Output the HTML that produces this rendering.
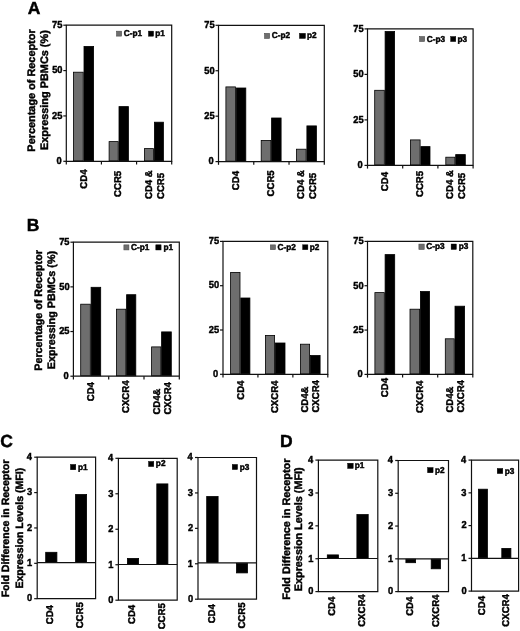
<!DOCTYPE html>
<html><head><meta charset="utf-8"><style>
html,body{margin:0;padding:0;background:#fff;}
svg{display:block;filter:grayscale(1);}
text{font-family:"Liberation Sans", sans-serif;font-weight:bold;text-rendering:geometricPrecision;fill:#000;stroke:#000;stroke-width:0.45px;}
</style></head><body>
<svg width="520" height="631" viewBox="0 0 520 631">
<rect width="520" height="631" fill="#fff"/>
<text transform="translate(27.85,14.27)" font-size="17.5">A</text>
<text transform="translate(26.83,231.17)" font-size="17.5">B</text>
<text transform="translate(0.27,446.97)" font-size="17.5">C</text>
<text transform="translate(280.11,446.52)" font-size="17.5">D</text>
<rect x="73.40" y="72.20" width="9.80" height="88.70" fill="#6e6e6e" stroke="#000" stroke-width="0.8"/>
<rect x="84.00" y="46.40" width="9.60" height="114.50" fill="#000" stroke="#000" stroke-width="0.8"/>
<rect x="109.10" y="141.60" width="9.10" height="19.30" fill="#6e6e6e" stroke="#000" stroke-width="0.8"/>
<rect x="119.00" y="106.60" width="9.40" height="54.30" fill="#000" stroke="#000" stroke-width="0.8"/>
<rect x="144.40" y="148.60" width="9.20" height="12.30" fill="#6e6e6e" stroke="#000" stroke-width="0.8"/>
<rect x="154.40" y="122.20" width="9.00" height="38.70" fill="#000" stroke="#000" stroke-width="0.8"/>
<path d="M66.30,161.30 L66.30,25.20 L171.70,25.20 L171.70,161.30 Z" fill="none" stroke="#111" stroke-width="1.2"/>
<line x1="63.30" y1="161.30" x2="66.30" y2="161.30" stroke="#111" stroke-width="1.2"/>
<text transform="translate(56.41,164.07) scale(0.92,1)" font-size="10.1">0</text>
<line x1="63.30" y1="115.93" x2="66.30" y2="115.93" stroke="#111" stroke-width="1.2"/>
<text transform="translate(52.04,118.71) scale(0.92,1)" font-size="10.1">25</text>
<line x1="63.30" y1="70.57" x2="66.30" y2="70.57" stroke="#111" stroke-width="1.2"/>
<text transform="translate(52.16,73.34) scale(0.92,1)" font-size="10.1">50</text>
<line x1="63.30" y1="25.20" x2="66.30" y2="25.20" stroke="#111" stroke-width="1.2"/>
<text transform="translate(52.04,27.92) scale(0.92,1)" font-size="10.1">75</text>
<line x1="66.30" y1="161.30" x2="66.30" y2="164.50" stroke="#111" stroke-width="1.2"/>
<line x1="101.43" y1="161.30" x2="101.43" y2="164.50" stroke="#111" stroke-width="1.2"/>
<line x1="136.57" y1="161.30" x2="136.57" y2="164.50" stroke="#111" stroke-width="1.2"/>
<line x1="171.70" y1="161.30" x2="171.70" y2="164.50" stroke="#111" stroke-width="1.2"/>
<rect x="116.60" y="31.20" width="5.00" height="4.90" fill="#6e6e6e" stroke="#4a4a4a" stroke-width="0.6"/>
<text transform="translate(123.77,36.03) scale(0.97,1)" font-size="8.5">C-p1</text>
<rect x="148.40" y="31.10" width="5.20" height="5.10" fill="#000" stroke="#000" stroke-width="0.4"/>
<text transform="translate(155.26,35.99) scale(0.97,1)" font-size="8.5">p1</text>
<rect x="225.90" y="86.90" width="9.50" height="74.30" fill="#6e6e6e" stroke="#000" stroke-width="0.8"/>
<rect x="236.20" y="88.00" width="9.60" height="73.20" fill="#000" stroke="#000" stroke-width="0.8"/>
<rect x="261.20" y="140.40" width="9.60" height="20.80" fill="#6e6e6e" stroke="#000" stroke-width="0.8"/>
<rect x="271.60" y="118.00" width="9.50" height="43.20" fill="#000" stroke="#000" stroke-width="0.8"/>
<rect x="296.40" y="149.20" width="9.70" height="12.00" fill="#6e6e6e" stroke="#000" stroke-width="0.8"/>
<rect x="306.90" y="125.90" width="9.50" height="35.30" fill="#000" stroke="#000" stroke-width="0.8"/>
<path d="M218.50,161.60 L218.50,25.30 L324.30,25.30 L324.30,161.60 Z" fill="none" stroke="#111" stroke-width="1.2"/>
<line x1="215.50" y1="161.60" x2="218.50" y2="161.60" stroke="#111" stroke-width="1.2"/>
<text transform="translate(208.61,164.37) scale(0.92,1)" font-size="10.1">0</text>
<line x1="215.50" y1="116.17" x2="218.50" y2="116.17" stroke="#111" stroke-width="1.2"/>
<text transform="translate(204.24,118.94) scale(0.92,1)" font-size="10.1">25</text>
<line x1="215.50" y1="70.73" x2="218.50" y2="70.73" stroke="#111" stroke-width="1.2"/>
<text transform="translate(204.36,73.51) scale(0.92,1)" font-size="10.1">50</text>
<line x1="215.50" y1="25.30" x2="218.50" y2="25.30" stroke="#111" stroke-width="1.2"/>
<text transform="translate(204.24,28.02) scale(0.92,1)" font-size="10.1">75</text>
<line x1="218.50" y1="161.60" x2="218.50" y2="164.80" stroke="#111" stroke-width="1.2"/>
<line x1="253.77" y1="161.60" x2="253.77" y2="164.80" stroke="#111" stroke-width="1.2"/>
<line x1="289.03" y1="161.60" x2="289.03" y2="164.80" stroke="#111" stroke-width="1.2"/>
<line x1="324.30" y1="161.60" x2="324.30" y2="164.80" stroke="#111" stroke-width="1.2"/>
<rect x="264.60" y="33.40" width="5.00" height="5.00" fill="#6e6e6e" stroke="#4a4a4a" stroke-width="0.6"/>
<text transform="translate(271.77,38.33) scale(0.97,1)" font-size="8.5">C-p2</text>
<rect x="299.40" y="33.30" width="6.10" height="5.20" fill="#000" stroke="#000" stroke-width="0.4"/>
<text transform="translate(306.96,38.33) scale(0.97,1)" font-size="8.5">p2</text>
<rect x="374.70" y="90.30" width="9.60" height="74.70" fill="#6e6e6e" stroke="#000" stroke-width="0.8"/>
<rect x="385.10" y="31.50" width="9.50" height="133.50" fill="#000" stroke="#000" stroke-width="0.8"/>
<rect x="410.40" y="139.90" width="9.70" height="25.10" fill="#6e6e6e" stroke="#000" stroke-width="0.8"/>
<rect x="420.90" y="146.60" width="9.10" height="18.40" fill="#000" stroke="#000" stroke-width="0.8"/>
<rect x="445.80" y="157.20" width="9.10" height="7.80" fill="#6e6e6e" stroke="#000" stroke-width="0.8"/>
<rect x="455.70" y="154.60" width="9.60" height="10.40" fill="#000" stroke="#000" stroke-width="0.8"/>
<path d="M367.50,165.40 L367.50,28.90 L473.10,28.90 L473.10,165.40 Z" fill="none" stroke="#111" stroke-width="1.2"/>
<line x1="364.50" y1="165.40" x2="367.50" y2="165.40" stroke="#111" stroke-width="1.2"/>
<text transform="translate(357.61,168.17) scale(0.92,1)" font-size="10.1">0</text>
<line x1="364.50" y1="119.90" x2="367.50" y2="119.90" stroke="#111" stroke-width="1.2"/>
<text transform="translate(353.24,122.67) scale(0.92,1)" font-size="10.1">25</text>
<line x1="364.50" y1="74.40" x2="367.50" y2="74.40" stroke="#111" stroke-width="1.2"/>
<text transform="translate(353.36,77.17) scale(0.92,1)" font-size="10.1">50</text>
<line x1="364.50" y1="28.90" x2="367.50" y2="28.90" stroke="#111" stroke-width="1.2"/>
<text transform="translate(353.24,31.62) scale(0.92,1)" font-size="10.1">75</text>
<line x1="367.50" y1="165.40" x2="367.50" y2="168.60" stroke="#111" stroke-width="1.2"/>
<line x1="402.70" y1="165.40" x2="402.70" y2="168.60" stroke="#111" stroke-width="1.2"/>
<line x1="437.90" y1="165.40" x2="437.90" y2="168.60" stroke="#111" stroke-width="1.2"/>
<line x1="473.10" y1="165.40" x2="473.10" y2="168.60" stroke="#111" stroke-width="1.2"/>
<rect x="419.60" y="36.60" width="5.00" height="4.90" fill="#6e6e6e" stroke="#4a4a4a" stroke-width="0.6"/>
<text transform="translate(426.77,41.53) scale(0.97,1)" font-size="8.5">C-p3</text>
<rect x="450.60" y="36.50" width="5.20" height="5.10" fill="#000" stroke="#000" stroke-width="0.4"/>
<text transform="translate(457.46,41.53) scale(0.97,1)" font-size="8.5">p3</text>
<rect x="80.70" y="304.20" width="9.60" height="71.60" fill="#6e6e6e" stroke="#000" stroke-width="0.8"/>
<rect x="91.10" y="287.30" width="9.60" height="88.50" fill="#000" stroke="#000" stroke-width="0.8"/>
<rect x="116.40" y="309.20" width="9.40" height="66.60" fill="#6e6e6e" stroke="#000" stroke-width="0.8"/>
<rect x="126.60" y="294.70" width="9.20" height="81.10" fill="#000" stroke="#000" stroke-width="0.8"/>
<rect x="151.60" y="346.90" width="9.20" height="28.90" fill="#6e6e6e" stroke="#000" stroke-width="0.8"/>
<rect x="161.60" y="331.90" width="9.70" height="43.90" fill="#000" stroke="#000" stroke-width="0.8"/>
<path d="M73.40,376.20 L73.40,242.20 L179.30,242.20 L179.30,376.20 Z" fill="none" stroke="#111" stroke-width="1.2"/>
<line x1="70.40" y1="376.20" x2="73.40" y2="376.20" stroke="#111" stroke-width="1.2"/>
<text transform="translate(63.51,378.97) scale(0.92,1)" font-size="10.1">0</text>
<line x1="70.40" y1="331.53" x2="73.40" y2="331.53" stroke="#111" stroke-width="1.2"/>
<text transform="translate(59.14,334.31) scale(0.92,1)" font-size="10.1">25</text>
<line x1="70.40" y1="286.87" x2="73.40" y2="286.87" stroke="#111" stroke-width="1.2"/>
<text transform="translate(59.26,289.64) scale(0.92,1)" font-size="10.1">50</text>
<line x1="70.40" y1="242.20" x2="73.40" y2="242.20" stroke="#111" stroke-width="1.2"/>
<text transform="translate(59.14,244.92) scale(0.92,1)" font-size="10.1">75</text>
<line x1="73.40" y1="376.20" x2="73.40" y2="379.40" stroke="#111" stroke-width="1.2"/>
<line x1="108.70" y1="376.20" x2="108.70" y2="379.40" stroke="#111" stroke-width="1.2"/>
<line x1="144.00" y1="376.20" x2="144.00" y2="379.40" stroke="#111" stroke-width="1.2"/>
<line x1="179.30" y1="376.20" x2="179.30" y2="379.40" stroke="#111" stroke-width="1.2"/>
<rect x="123.90" y="244.90" width="5.00" height="5.00" fill="#6e6e6e" stroke="#4a4a4a" stroke-width="0.6"/>
<text transform="translate(131.07,250.08) scale(0.97,1)" font-size="8.5">C-p1</text>
<rect x="155.80" y="244.80" width="5.30" height="5.20" fill="#000" stroke="#000" stroke-width="0.4"/>
<text transform="translate(163.41,250.04) scale(0.97,1)" font-size="8.5">p1</text>
<rect x="230.60" y="272.40" width="9.40" height="101.50" fill="#6e6e6e" stroke="#000" stroke-width="0.8"/>
<rect x="240.80" y="298.00" width="9.10" height="75.90" fill="#000" stroke="#000" stroke-width="0.8"/>
<rect x="265.40" y="335.40" width="9.20" height="38.50" fill="#6e6e6e" stroke="#000" stroke-width="0.8"/>
<rect x="275.40" y="343.00" width="9.60" height="30.90" fill="#000" stroke="#000" stroke-width="0.8"/>
<rect x="300.40" y="344.20" width="9.20" height="29.70" fill="#6e6e6e" stroke="#000" stroke-width="0.8"/>
<rect x="310.40" y="355.50" width="9.70" height="18.40" fill="#000" stroke="#000" stroke-width="0.8"/>
<path d="M223.00,374.30 L223.00,241.40 L327.80,241.40 L327.80,374.30 Z" fill="none" stroke="#111" stroke-width="1.2"/>
<line x1="220.00" y1="374.30" x2="223.00" y2="374.30" stroke="#111" stroke-width="1.2"/>
<text transform="translate(213.11,377.07) scale(0.92,1)" font-size="10.1">0</text>
<line x1="220.00" y1="330.00" x2="223.00" y2="330.00" stroke="#111" stroke-width="1.2"/>
<text transform="translate(208.74,332.77) scale(0.92,1)" font-size="10.1">25</text>
<line x1="220.00" y1="285.70" x2="223.00" y2="285.70" stroke="#111" stroke-width="1.2"/>
<text transform="translate(208.86,288.47) scale(0.92,1)" font-size="10.1">50</text>
<line x1="220.00" y1="241.40" x2="223.00" y2="241.40" stroke="#111" stroke-width="1.2"/>
<text transform="translate(208.74,244.12) scale(0.92,1)" font-size="10.1">75</text>
<line x1="223.00" y1="374.30" x2="223.00" y2="377.50" stroke="#111" stroke-width="1.2"/>
<line x1="257.93" y1="374.30" x2="257.93" y2="377.50" stroke="#111" stroke-width="1.2"/>
<line x1="292.87" y1="374.30" x2="292.87" y2="377.50" stroke="#111" stroke-width="1.2"/>
<line x1="327.80" y1="374.30" x2="327.80" y2="377.50" stroke="#111" stroke-width="1.2"/>
<rect x="270.40" y="244.90" width="5.00" height="4.70" fill="#6e6e6e" stroke="#4a4a4a" stroke-width="0.6"/>
<text transform="translate(277.57,249.73) scale(0.97,1)" font-size="8.5">C-p2</text>
<rect x="302.60" y="244.80" width="5.30" height="4.90" fill="#000" stroke="#000" stroke-width="0.4"/>
<text transform="translate(309.66,249.73) scale(0.97,1)" font-size="8.5">p2</text>
<rect x="374.90" y="292.60" width="9.40" height="81.40" fill="#6e6e6e" stroke="#000" stroke-width="0.8"/>
<rect x="385.10" y="254.60" width="9.60" height="119.40" fill="#000" stroke="#000" stroke-width="0.8"/>
<rect x="410.00" y="309.20" width="9.60" height="64.80" fill="#6e6e6e" stroke="#000" stroke-width="0.8"/>
<rect x="420.40" y="291.50" width="9.10" height="82.50" fill="#000" stroke="#000" stroke-width="0.8"/>
<rect x="445.30" y="338.80" width="8.90" height="35.20" fill="#6e6e6e" stroke="#000" stroke-width="0.8"/>
<rect x="455.00" y="306.20" width="9.60" height="67.80" fill="#000" stroke="#000" stroke-width="0.8"/>
<path d="M367.50,374.40 L367.50,241.40 L472.80,241.40 L472.80,374.40 Z" fill="none" stroke="#111" stroke-width="1.2"/>
<line x1="364.50" y1="374.40" x2="367.50" y2="374.40" stroke="#111" stroke-width="1.2"/>
<text transform="translate(357.61,377.17) scale(0.92,1)" font-size="10.1">0</text>
<line x1="364.50" y1="330.07" x2="367.50" y2="330.07" stroke="#111" stroke-width="1.2"/>
<text transform="translate(353.24,332.84) scale(0.92,1)" font-size="10.1">25</text>
<line x1="364.50" y1="285.73" x2="367.50" y2="285.73" stroke="#111" stroke-width="1.2"/>
<text transform="translate(353.36,288.51) scale(0.92,1)" font-size="10.1">50</text>
<line x1="364.50" y1="241.40" x2="367.50" y2="241.40" stroke="#111" stroke-width="1.2"/>
<text transform="translate(353.24,244.12) scale(0.92,1)" font-size="10.1">75</text>
<line x1="367.50" y1="374.40" x2="367.50" y2="377.60" stroke="#111" stroke-width="1.2"/>
<line x1="402.60" y1="374.40" x2="402.60" y2="377.60" stroke="#111" stroke-width="1.2"/>
<line x1="437.70" y1="374.40" x2="437.70" y2="377.60" stroke="#111" stroke-width="1.2"/>
<line x1="472.80" y1="374.40" x2="472.80" y2="377.60" stroke="#111" stroke-width="1.2"/>
<rect x="418.90" y="244.10" width="5.30" height="5.30" fill="#6e6e6e" stroke="#4a4a4a" stroke-width="0.6"/>
<text transform="translate(426.27,249.23) scale(0.97,1)" font-size="8.5">C-p3</text>
<rect x="451.10" y="244.00" width="5.30" height="5.50" fill="#000" stroke="#000" stroke-width="0.4"/>
<text transform="translate(458.76,249.23) scale(0.97,1)" font-size="8.5">p3</text>
<text transform="translate(34.90,151.63) rotate(-90)" font-size="10.9">Percentage of Receptor</text>
<text transform="translate(48.10,150.06) rotate(-90)" font-size="10.9">Expressing PBMCs (%)</text>
<text transform="translate(42.00,370.73) rotate(-90)" font-size="10.75">Percentage of Receptor</text>
<text transform="translate(54.90,369.23) rotate(-90)" font-size="10.75">Expressing PBMCs (%)</text>
<text transform="translate(9.40,597.37) rotate(-90)" font-size="10.55">Fold Difference in Receptor</text>
<text transform="translate(22.50,588.53) rotate(-90)" font-size="10.55">Expression Levels (MFI)</text>
<text transform="translate(289.60,599.84) rotate(-90)" font-size="10.82">Fold Difference in Receptor</text>
<text transform="translate(302.40,591.18) rotate(-90)" font-size="10.82">Expression Levels (MFI)</text>
<text transform="translate(87.10,188.66) rotate(-90) scale(0.97,1)" font-size="9.9">CD4</text>
<text transform="translate(121.30,196.88) rotate(-90) scale(0.97,1)" font-size="9.9">CCR5</text>
<text transform="translate(151.90,198.98) rotate(-90) scale(0.97,1)" font-size="9.9">CD4 &amp;</text>
<text transform="translate(163.80,198.98) rotate(-90) scale(0.97,1)" font-size="9.9">CCR5</text>
<text transform="translate(239.00,190.16) rotate(-90) scale(0.97,1)" font-size="9.9">CD4</text>
<text transform="translate(273.80,196.38) rotate(-90) scale(0.97,1)" font-size="9.9">CCR5</text>
<text transform="translate(304.40,198.88) rotate(-90) scale(0.97,1)" font-size="9.9">CD4 &amp;</text>
<text transform="translate(316.10,198.88) rotate(-90) scale(0.97,1)" font-size="9.9">CCR5</text>
<text transform="translate(387.60,191.16) rotate(-90) scale(0.97,1)" font-size="9.9">CD4</text>
<text transform="translate(422.70,196.98) rotate(-90) scale(0.97,1)" font-size="9.9">CCR5</text>
<text transform="translate(453.10,198.88) rotate(-90) scale(0.97,1)" font-size="9.9">CD4 &amp;</text>
<text transform="translate(464.80,198.88) rotate(-90) scale(0.97,1)" font-size="9.9">CCR5</text>
<text transform="translate(93.90,401.26) rotate(-90) scale(0.97,1)" font-size="9.9">CD4</text>
<text transform="translate(129.30,412.98) rotate(-90) scale(0.97,1)" font-size="9.9">CXCR4</text>
<text transform="translate(159.80,414.58) rotate(-90) scale(0.97,1)" font-size="9.9">CD4&amp;</text>
<text transform="translate(171.10,414.58) rotate(-90) scale(0.97,1)" font-size="9.9">CXCR4</text>
<text transform="translate(243.50,399.76) rotate(-90) scale(0.97,1)" font-size="9.9">CD4</text>
<text transform="translate(277.80,413.08) rotate(-90) scale(0.97,1)" font-size="9.9">CXCR4</text>
<text transform="translate(308.10,412.58) rotate(-90) scale(0.97,1)" font-size="9.9">CD4&amp;</text>
<text transform="translate(319.20,412.58) rotate(-90) scale(0.97,1)" font-size="9.9">CXCR4</text>
<text transform="translate(387.50,397.16) rotate(-90) scale(0.97,1)" font-size="9.9">CD4</text>
<text transform="translate(422.90,413.08) rotate(-90) scale(0.97,1)" font-size="9.9">CXCR4</text>
<text transform="translate(453.10,412.58) rotate(-90) scale(0.97,1)" font-size="9.9">CD4&amp;</text>
<text transform="translate(464.20,412.58) rotate(-90) scale(0.97,1)" font-size="9.9">CXCR4</text>
<text transform="translate(53.10,624.27) rotate(-90) scale(0.97,1)" font-size="9.9">CD4</text>
<text transform="translate(83.35,628.36) rotate(-90) scale(0.97,1)" font-size="9.9">CCR5</text>
<text transform="translate(135.00,624.02) rotate(-90) scale(0.97,1)" font-size="9.9">CD4</text>
<text transform="translate(164.80,629.33) rotate(-90) scale(0.97,1)" font-size="9.9">CCR5</text>
<text transform="translate(215.00,623.32) rotate(-90) scale(0.97,1)" font-size="9.9">CD4</text>
<text transform="translate(244.80,628.58) rotate(-90) scale(0.97,1)" font-size="9.9">CCR5</text>
<text transform="translate(334.80,615.87) rotate(-90) scale(0.97,1)" font-size="9.9">CD4</text>
<text transform="translate(364.80,626.83) rotate(-90) scale(0.97,1)" font-size="9.9">CXCR4</text>
<text transform="translate(412.60,615.87) rotate(-90) scale(0.97,1)" font-size="9.9">CD4</text>
<text transform="translate(438.50,627.08) rotate(-90) scale(0.97,1)" font-size="9.9">CXCR4</text>
<text transform="translate(485.00,615.15) rotate(-90) scale(0.97,1)" font-size="9.9">CD4</text>
<text transform="translate(508.80,626.63) rotate(-90) scale(0.97,1)" font-size="9.9">CXCR4</text>
<rect x="45.70" y="552.30" width="11.20" height="10.00" fill="#000" stroke="#000" stroke-width="0.8"/>
<rect x="75.60" y="494.50" width="11.00" height="67.80" fill="#000" stroke="#000" stroke-width="0.8"/>
<path d="M37.20,598.70 L37.20,457.20 L95.60,457.20 L95.60,598.70 Z" fill="none" stroke="#111" stroke-width="1.2"/>
<line x1="37.20" y1="562.70" x2="95.60" y2="562.70" stroke="#111" stroke-width="1.2"/>
<line x1="34.20" y1="598.70" x2="37.20" y2="598.70" stroke="#111" stroke-width="1.2"/>
<text transform="translate(27.11,601.47) scale(0.92,1)" font-size="10.1">0</text>
<line x1="34.20" y1="563.33" x2="37.20" y2="563.33" stroke="#111" stroke-width="1.2"/>
<text transform="translate(27.00,566.10) scale(0.92,1)" font-size="10.1">1</text>
<line x1="34.20" y1="527.95" x2="37.20" y2="527.95" stroke="#111" stroke-width="1.2"/>
<text transform="translate(27.11,530.77) scale(0.92,1)" font-size="10.1">2</text>
<line x1="34.20" y1="492.57" x2="37.20" y2="492.57" stroke="#111" stroke-width="1.2"/>
<text transform="translate(27.07,495.33) scale(0.92,1)" font-size="10.1">3</text>
<line x1="34.20" y1="457.20" x2="37.20" y2="457.20" stroke="#111" stroke-width="1.2"/>
<text transform="translate(26.79,459.97) scale(0.92,1)" font-size="10.1">4</text>
<rect x="70.40" y="464.40" width="5.40" height="5.40" fill="#000" stroke="#000" stroke-width="0.4"/>
<text transform="translate(77.96,469.74) scale(0.97,1)" font-size="8.5">p1</text>
<rect x="127.40" y="558.40" width="11.20" height="5.70" fill="#000" stroke="#000" stroke-width="0.8"/>
<rect x="156.80" y="483.90" width="11.10" height="80.20" fill="#000" stroke="#000" stroke-width="0.8"/>
<path d="M118.40,600.20 L118.40,458.30 L177.20,458.30 L177.20,600.20 Z" fill="none" stroke="#111" stroke-width="1.2"/>
<line x1="118.40" y1="564.50" x2="177.20" y2="564.50" stroke="#111" stroke-width="1.2"/>
<line x1="115.40" y1="600.20" x2="118.40" y2="600.20" stroke="#111" stroke-width="1.2"/>
<text transform="translate(108.31,602.97) scale(0.92,1)" font-size="10.1">0</text>
<line x1="115.40" y1="564.73" x2="118.40" y2="564.73" stroke="#111" stroke-width="1.2"/>
<text transform="translate(108.20,567.50) scale(0.92,1)" font-size="10.1">1</text>
<line x1="115.40" y1="529.25" x2="118.40" y2="529.25" stroke="#111" stroke-width="1.2"/>
<text transform="translate(108.31,532.07) scale(0.92,1)" font-size="10.1">2</text>
<line x1="115.40" y1="493.78" x2="118.40" y2="493.78" stroke="#111" stroke-width="1.2"/>
<text transform="translate(108.27,496.53) scale(0.92,1)" font-size="10.1">3</text>
<line x1="115.40" y1="458.30" x2="118.40" y2="458.30" stroke="#111" stroke-width="1.2"/>
<text transform="translate(107.99,461.07) scale(0.92,1)" font-size="10.1">4</text>
<rect x="148.50" y="461.40" width="5.30" height="5.20" fill="#000" stroke="#000" stroke-width="0.4"/>
<text transform="translate(155.86,466.48) scale(0.97,1)" font-size="8.5">p2</text>
<rect x="206.70" y="496.50" width="11.40" height="66.00" fill="#000" stroke="#000" stroke-width="0.8"/>
<rect x="236.50" y="563.30" width="11.00" height="9.60" fill="#000" stroke="#000" stroke-width="0.8"/>
<path d="M198.00,599.20 L198.00,457.50 L256.50,457.50 L256.50,599.20 Z" fill="none" stroke="#111" stroke-width="1.2"/>
<line x1="198.00" y1="562.90" x2="256.50" y2="562.90" stroke="#111" stroke-width="1.2"/>
<line x1="195.00" y1="599.20" x2="198.00" y2="599.20" stroke="#111" stroke-width="1.2"/>
<text transform="translate(187.91,601.97) scale(0.92,1)" font-size="10.1">0</text>
<line x1="195.00" y1="563.78" x2="198.00" y2="563.78" stroke="#111" stroke-width="1.2"/>
<text transform="translate(187.80,566.55) scale(0.92,1)" font-size="10.1">1</text>
<line x1="195.00" y1="528.35" x2="198.00" y2="528.35" stroke="#111" stroke-width="1.2"/>
<text transform="translate(187.91,531.17) scale(0.92,1)" font-size="10.1">2</text>
<line x1="195.00" y1="492.93" x2="198.00" y2="492.93" stroke="#111" stroke-width="1.2"/>
<text transform="translate(187.87,495.68) scale(0.92,1)" font-size="10.1">3</text>
<line x1="195.00" y1="457.50" x2="198.00" y2="457.50" stroke="#111" stroke-width="1.2"/>
<text transform="translate(187.59,460.27) scale(0.92,1)" font-size="10.1">4</text>
<rect x="232.20" y="464.40" width="5.40" height="5.20" fill="#000" stroke="#000" stroke-width="0.4"/>
<text transform="translate(239.66,469.63) scale(0.97,1)" font-size="8.5">p3</text>
<rect x="327.30" y="554.90" width="11.20" height="3.20" fill="#000" stroke="#000" stroke-width="0.8"/>
<rect x="356.90" y="514.60" width="11.30" height="43.50" fill="#000" stroke="#000" stroke-width="0.8"/>
<path d="M318.40,591.60 L318.40,460.10 L377.80,460.10 L377.80,591.60 Z" fill="none" stroke="#111" stroke-width="1.2"/>
<line x1="318.40" y1="558.50" x2="377.80" y2="558.50" stroke="#111" stroke-width="1.2"/>
<line x1="315.40" y1="591.60" x2="318.40" y2="591.60" stroke="#111" stroke-width="1.2"/>
<text transform="translate(308.31,594.37) scale(0.92,1)" font-size="10.1">0</text>
<line x1="315.40" y1="558.73" x2="318.40" y2="558.73" stroke="#111" stroke-width="1.2"/>
<text transform="translate(308.20,561.50) scale(0.92,1)" font-size="10.1">1</text>
<line x1="315.40" y1="525.85" x2="318.40" y2="525.85" stroke="#111" stroke-width="1.2"/>
<text transform="translate(308.31,528.67) scale(0.92,1)" font-size="10.1">2</text>
<line x1="315.40" y1="492.98" x2="318.40" y2="492.98" stroke="#111" stroke-width="1.2"/>
<text transform="translate(308.27,495.73) scale(0.92,1)" font-size="10.1">3</text>
<line x1="315.40" y1="460.10" x2="318.40" y2="460.10" stroke="#111" stroke-width="1.2"/>
<text transform="translate(307.99,462.87) scale(0.92,1)" font-size="10.1">4</text>
<rect x="347.60" y="463.20" width="5.60" height="5.30" fill="#000" stroke="#000" stroke-width="0.4"/>
<text transform="translate(354.76,468.39) scale(0.97,1)" font-size="8.5">p1</text>
<rect x="405.90" y="559.20" width="9.70" height="3.50" fill="#000" stroke="#000" stroke-width="0.8"/>
<rect x="431.20" y="559.20" width="9.30" height="9.60" fill="#000" stroke="#000" stroke-width="0.8"/>
<path d="M398.20,591.60 L398.20,460.50 L448.50,460.50 L448.50,591.60 Z" fill="none" stroke="#111" stroke-width="1.2"/>
<line x1="398.20" y1="558.80" x2="448.50" y2="558.80" stroke="#111" stroke-width="1.2"/>
<line x1="395.20" y1="591.60" x2="398.20" y2="591.60" stroke="#111" stroke-width="1.2"/>
<text transform="translate(388.11,594.37) scale(0.92,1)" font-size="10.1">0</text>
<line x1="395.20" y1="558.83" x2="398.20" y2="558.83" stroke="#111" stroke-width="1.2"/>
<text transform="translate(388.00,561.60) scale(0.92,1)" font-size="10.1">1</text>
<line x1="395.20" y1="526.05" x2="398.20" y2="526.05" stroke="#111" stroke-width="1.2"/>
<text transform="translate(388.11,528.87) scale(0.92,1)" font-size="10.1">2</text>
<line x1="395.20" y1="493.27" x2="398.20" y2="493.27" stroke="#111" stroke-width="1.2"/>
<text transform="translate(388.07,496.03) scale(0.92,1)" font-size="10.1">3</text>
<line x1="395.20" y1="460.50" x2="398.20" y2="460.50" stroke="#111" stroke-width="1.2"/>
<text transform="translate(387.79,463.27) scale(0.92,1)" font-size="10.1">4</text>
<rect x="427.50" y="467.50" width="5.60" height="5.30" fill="#000" stroke="#000" stroke-width="0.4"/>
<text transform="translate(434.96,472.58) scale(0.97,1)" font-size="8.5">p2</text>
<rect x="478.40" y="489.20" width="9.00" height="68.70" fill="#000" stroke="#000" stroke-width="0.8"/>
<rect x="501.80" y="548.40" width="9.10" height="9.50" fill="#000" stroke="#000" stroke-width="0.8"/>
<path d="M471.50,591.10 L471.50,460.10 L518.60,460.10 L518.60,591.10 Z" fill="none" stroke="#111" stroke-width="1.2"/>
<line x1="471.50" y1="558.30" x2="518.60" y2="558.30" stroke="#111" stroke-width="1.2"/>
<line x1="468.50" y1="591.10" x2="471.50" y2="591.10" stroke="#111" stroke-width="1.2"/>
<text transform="translate(461.41,593.87) scale(0.92,1)" font-size="10.1">0</text>
<line x1="468.50" y1="558.35" x2="471.50" y2="558.35" stroke="#111" stroke-width="1.2"/>
<text transform="translate(461.30,561.12) scale(0.92,1)" font-size="10.1">1</text>
<line x1="468.50" y1="525.60" x2="471.50" y2="525.60" stroke="#111" stroke-width="1.2"/>
<text transform="translate(461.41,528.42) scale(0.92,1)" font-size="10.1">2</text>
<line x1="468.50" y1="492.85" x2="471.50" y2="492.85" stroke="#111" stroke-width="1.2"/>
<text transform="translate(461.37,495.61) scale(0.92,1)" font-size="10.1">3</text>
<line x1="468.50" y1="460.10" x2="471.50" y2="460.10" stroke="#111" stroke-width="1.2"/>
<text transform="translate(461.09,462.87) scale(0.92,1)" font-size="10.1">4</text>
<rect x="497.20" y="468.40" width="5.60" height="5.20" fill="#000" stroke="#000" stroke-width="0.4"/>
<text transform="translate(504.76,473.78) scale(0.97,1)" font-size="8.5">p3</text>
</svg>
</body></html>
